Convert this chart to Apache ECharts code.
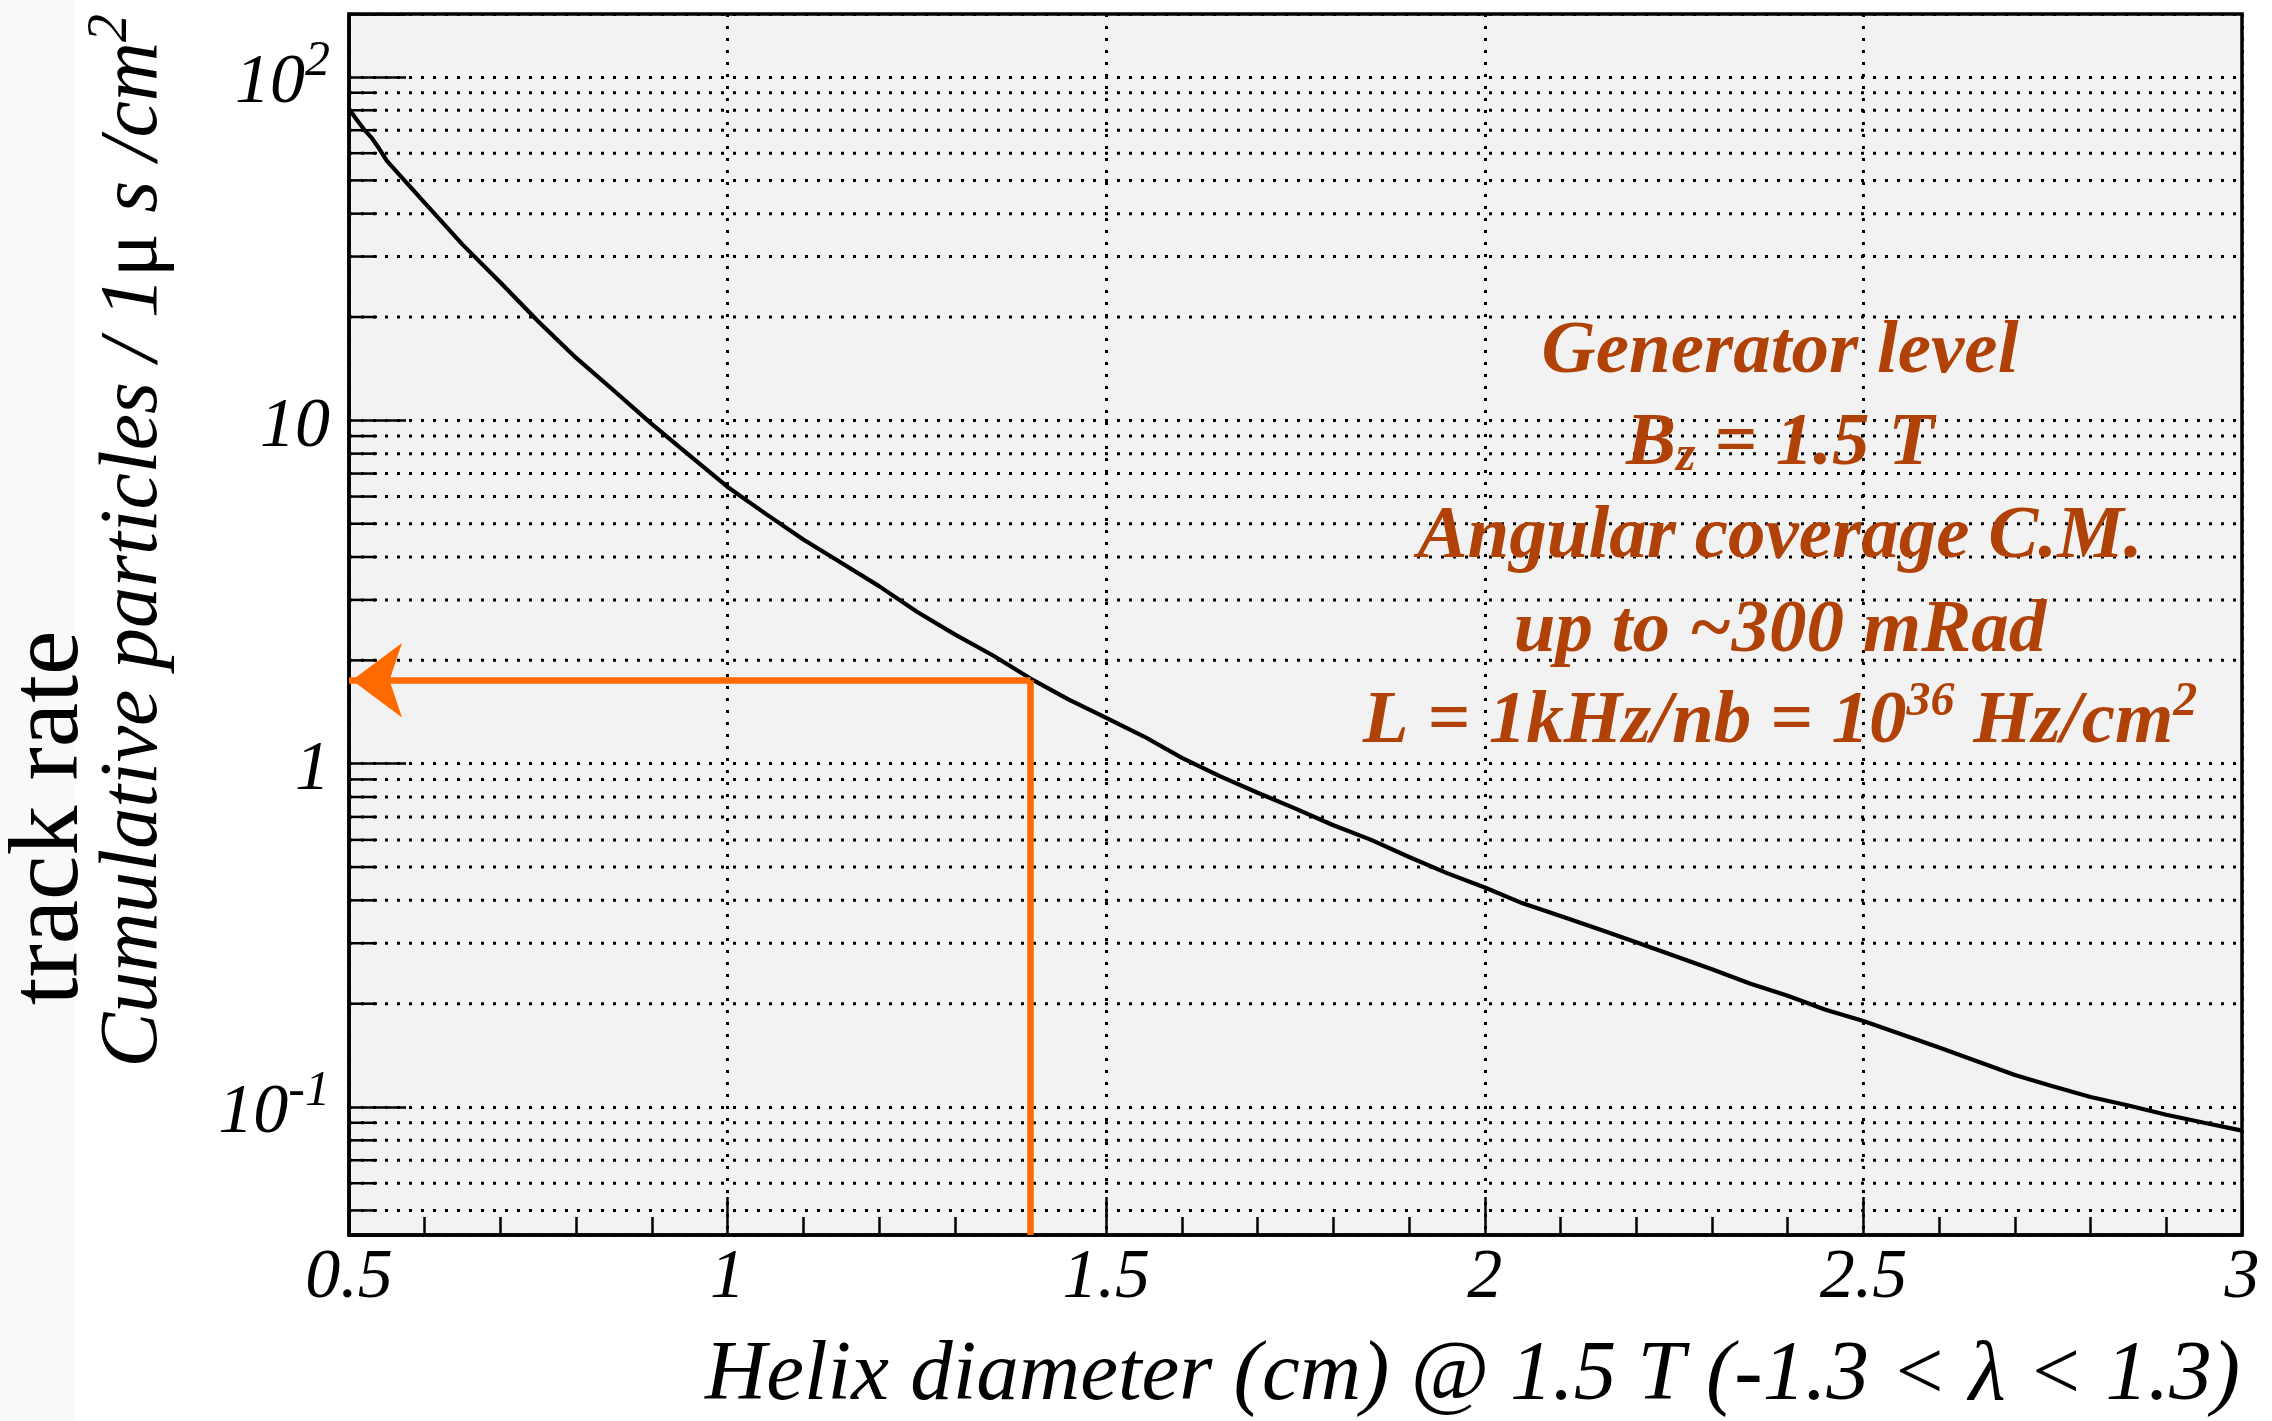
<!DOCTYPE html>
<html>
<head>
<meta charset="utf-8">
<script src="https://cdn.jsdelivr.net/npm/echarts@6/dist/echarts.min.js"></script>
<style>
html,body{margin:0;padding:0;background:#ffffff;}
#chart{width:2272px;height:1421px;}
</style>
</head>
<body>
<div id="chart"></div>
<script>
// ---- data ----
const diameter = [0.50,0.51,0.52,0.53,0.54,0.55,0.60,0.65,0.70,0.75,0.80,0.85,0.90,0.95,1.00,1.05,1.10,1.15,1.20,1.25,1.30,1.35,1.40,1.45,1.50,1.55,1.60,1.65,1.70,1.75,1.80,1.85,1.90,1.95,2.00,2.05,2.10,2.15,2.20,2.25,2.30,2.35,2.40,2.45,2.50,2.55,2.60,2.65,2.70,2.75,2.80,2.85,2.90,2.95,3.00];
const trackRate = [80.7,75.2,70.3,66.5,61.8,57.0,43.0,32.5,25.2,19.4,15.2,12.2,9.75,7.9,6.4,5.35,4.5,3.85,3.29,2.77,2.38,2.07,1.77,1.54,1.36,1.20,1.04,0.92,0.823,0.74,0.662,0.600,0.535,0.480,0.436,0.392,0.360,0.330,0.302,0.276,0.252,0.229,0.211,0.192,0.178,0.163,0.149,0.136,0.124,0.115,0.107,0.101,0.095,0.090,0.0854];
const xRange = [0.5, 3];
const yRange = [0.0424, 152.6];
const xTickStep = 0.5;
const yMinorTicks = [0.05,0.06,0.07,0.08,0.09,0.2,0.3,0.4,0.5,0.6,0.7,0.8,0.9,2,3,4,5,6,7,8,9,20,30,40,50,60,70,80,90];
const arrowX = 1.4;
const arrowY = 1.75;
const annotationLines = [
  '{t|Generator level}',
  '{t|B}{sub|z}{t| = 1.5 T}',
  '{t|Angular coverage C.M.}',
  '{t|up to ~300 mRad}',
  '{t|L = 1kHz/nb = 10}{sup|36}{t| Hz/cm}{sup|2}'
];
const xTitle = 'Helix diameter (cm) @ 1.5 T (-1.3 < \u03bb < 1.3)';
const yTitleRich = '{t|Cumulative particles / 1}{u|\u03bc}{t| s /cm}{s|2}';
const yTitle2 = 'track rate';

// ---- styles ----
const SERIF = '"Liberation Serif", "Times New Roman", serif';
const ANNOT = '#b04208';
const ORANGE = '#ff6a00';

const chart = echarts.init(document.getElementById('chart'), null, {renderer:'canvas'});

const annotBaselines = [378, 470, 563, 657, 748];

const option = {
  backgroundColor: '#ffffff',
  animation: false,
  grid: {
    left: 349, right: 30, top: 14, bottom: 186,
    show: true, backgroundColor: '#f2f2f2', borderColor: '#000', borderWidth: 3.5,
    outerBoundsMode: 'none', containLabel: false
  },
  xAxis: {
    type: 'value', min: xRange[0], max: xRange[1], interval: xTickStep,
    axisLine: {show: true, onZero: false, lineStyle: {color: '#000', width: 3.5}},
    axisTick: {show: true, inside: true, length: 38, lineStyle: {color: '#000', width: 2.5}},
    minorTick: {show: true, splitNumber: 5, length: 18, lineStyle: {color: '#000', width: 2.5}},
    splitLine: {show: true, lineStyle: {color: '#000', width: 3, type: [3, 9]}},
    minorSplitLine: {show: false},
    axisLabel: {
      show: true, margin: 9, color: '#000', fontFamily: SERIF, fontStyle: 'italic', fontSize: 70,
      showMinLabel: true, showMaxLabel: true, hideOverlap: false,
      formatter: v => String(Math.round(v * 10) / 10)
    }
  },
  yAxis: {
    type: 'log', logBase: 10, min: yRange[0], max: yRange[1],
    axisLine: {show: true, lineStyle: {color: '#000', width: 3.5}},
    axisTick: {show: true, inside: true, length: 57, lineStyle: {color: '#000', width: 2.5}},
    splitLine: {show: true, lineStyle: {color: '#000', width: 3, type: [3, 9]}},
    axisLabel: {
      show: true, margin: 19, color: '#000', fontFamily: SERIF, fontStyle: 'italic', fontSize: 70,
      hideOverlap: false, padding: [14, 0, 0, 0],
      formatter: function (v) {
        const l = Math.log10(v);
        const e = Math.round(l);
        if (Math.abs(l - e) > 1e-6) return '';
        if (e === 0) return '{b|1}';
        if (e === 1) return '{b|10}';
        return '{b|10}{s|' + e + '}';
      },
      rich: {
        b: {fontFamily: SERIF, fontStyle: 'italic', fontSize: 70, lineHeight: 70, color: '#000', verticalAlign: 'bottom'},
        s: {fontFamily: SERIF, fontStyle: 'italic', fontSize: 50, lineHeight: 50, color: '#000', verticalAlign: 'bottom', padding: [0, 0, 32, 0]}
      }
    }
  },
  series: [
    {
      name: 'minor grid',
      type: 'custom',
      silent: true,
      z: 1,
      data: yMinorTicks.map(v => [xRange[0], v]),
      encode: {x: 0, y: 1},
      clip: false,
      renderItem: function (params, api) {
        const v = api.value(1);
        const a = api.coord([xRange[0], v]);
        const b = api.coord([xRange[1], v]);
        return {
          type: 'group',
          children: [
            {type: 'line', shape: {x1: a[0], y1: a[1], x2: b[0], y2: b[1]},
             style: {stroke: '#000', lineWidth: 3, lineDash: [3, 9]}},
            {type: 'line', shape: {x1: a[0], y1: a[1], x2: a[0] + 28, y2: a[1]},
             style: {stroke: '#000', lineWidth: 2.5}}
          ]
        };
      }
    },
    {
      name: 'cumulative rate',
      type: 'line',
      z: 3,
      data: diameter.map((d, i) => [d, trackRate[i]]),
      showSymbol: false,
      symbol: 'none',
      smooth: false,
      lineStyle: {color: '#000', width: 4.2},
      markLine: {
        silent: true,
        symbol: ['none', 'none'],
        label: {show: false},
        lineStyle: {color: ORANGE, width: 6.5, type: 'solid'},
        emphasis: {disabled: true},
        data: [
          [{coord: [arrowX, yRange[0]]}, {coord: [arrowX, arrowY]}],
          [{coord: [arrowX, arrowY]}, {coord: [xRange[0], arrowY], symbol: 'arrow', symbolSize: [56, 50], symbolOffset: [0, 3]}]
        ]
      }
    }
  ],
  graphic: [
    {type: 'rect', z: -10, shape: {x: 0, y: 0, width: 75, height: 1421}, style: {fill: '#f9f9f7'}},
    {type: 'text', x: 51, y: 818, rotation: Math.PI / 2,
     style: {text: yTitle2, font: '100px ' + SERIF, fill: '#000', align: 'center', verticalAlign: 'middle'}},
    {type: 'text', x: 134, y: 14, rotation: Math.PI / 2,
     style: {text: yTitleRich, align: 'right', verticalAlign: 'middle',
       rich: {
         t: {fontFamily: SERIF, fontStyle: 'italic', fontSize: 82, lineHeight: 82, fill: '#000', verticalAlign: 'bottom'},
         u: {fontFamily: SERIF, fontSize: 82, lineHeight: 82, fill: '#000', verticalAlign: 'bottom'},
         s: {fontFamily: SERIF, fontStyle: 'italic', fontSize: 56, lineHeight: 56, fill: '#000', verticalAlign: 'bottom', padding: [0, 0, 36, 0]}
       }}},
    {type: 'text', x: 2240, y: 1377,
     style: {text: xTitle, font: 'italic 85px ' + SERIF, fill: '#000', align: 'right', verticalAlign: 'middle'}},
  ].concat(annotationLines.map((txt, i) => ({
    type: 'text', x: 1780, y: annotBaselines[i] - 25, z: 10,
    style: {text: txt, align: 'center', verticalAlign: 'middle',
      rich: {
        t: {fontFamily: SERIF, fontStyle: 'italic', fontWeight: 'bold', fontSize: 75, lineHeight: 75, fill: ANNOT, verticalAlign: 'bottom'},
        sub: {fontFamily: SERIF, fontStyle: 'italic', fontWeight: 'bold', fontSize: 50, lineHeight: 50, fill: ANNOT, verticalAlign: 'bottom'},
        sup: {fontFamily: SERIF, fontStyle: 'italic', fontWeight: 'bold', fontSize: 48, lineHeight: 48, fill: ANNOT, verticalAlign: 'bottom', padding: [0, 0, 34, 0]}
      }}
  })))
};

chart.setOption(option);
</script>
</body>
</html>
